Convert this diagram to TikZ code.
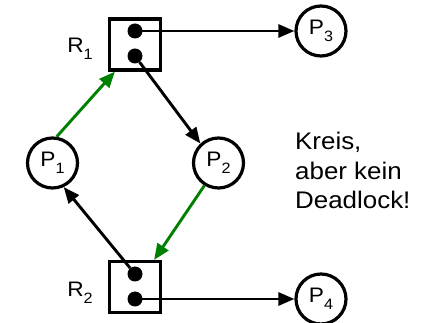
\documentclass[tikz,border=0pt]{standalone}
\usepackage{fontspec}
\setmainfont{Liberation Sans}[FakeStretch=1.08]
\usetikzlibrary{arrows.meta}
\definecolor{arrgreen}{RGB}{0,128,0}
\newcommand\mysub[1]{\raisebox{-7pt}{\fontsize{15}{15}\selectfont #1}}
\tikzset{
  proc/.style={circle,draw,line width=3.2pt,minimum size=50pt,inner sep=0pt,font=\fontsize{21}{24}\selectfont},
  res/.style={rectangle,draw,line width=3.2pt,minimum size=51pt,inner sep=0pt},
  tok/.style={circle,fill,minimum size=15pt,inner sep=0pt},
  rlab/.style={anchor=base,inner sep=0pt,font=\fontsize{21}{24}\selectfont},
  arr/.style={line width=2.9pt,-{Triangle[length=16pt,width=13pt]}},
  garr/.style={arr,draw=arrgreen,fill=arrgreen},
}
\begin{document}
\begin{tikzpicture}[x=1pt,y=-1pt]
\useasboundingbox (0,0) rectangle (432,323);
\node[res] (R1) at (135,44.5) {};
\node[tok] (d11) at (135,31) {};
\node[tok] (d12) at (135,56) {};
\node[res] (R2) at (135,287) {};
\node[tok] (d21) at (135,274) {};
\node[tok] (d22) at (135,299) {};
\node[rlab] (l1) at (80,53) {R\mysub{1}};
\node[rlab] (l2) at (80,297) {R\mysub{2}};
\node[proc] (P1) at (52.5,163) {P\mysub{1}};
\node[proc] (P2) at (218.5,163) {P\mysub{2}};
\node[proc] (P3) at (321,31) {P\mysub{3}};
\node[proc] (P4) at (321,299) {P\mysub{4}};
\node[anchor=north west,inner sep=0pt,align=left,font=\fontsize{24}{29.5}\selectfont] (txt) at (295,132) {Kreis,\\aber kein\\Deadlock!};
\draw[arr] (d11.center) -- (P3.west);
\draw[arr] (d22.center) -- (P4.west);
\draw[arr] (d12) -- (P2.133);
\draw[arr] (d21) -- (P1.-65);
\draw[garr] (P1.81) -- ([xshift=7pt]R1.south west);
\draw[garr] (P2.238) -- ([xshift=-8pt]R2.north east);
\end{tikzpicture}
\end{document}
